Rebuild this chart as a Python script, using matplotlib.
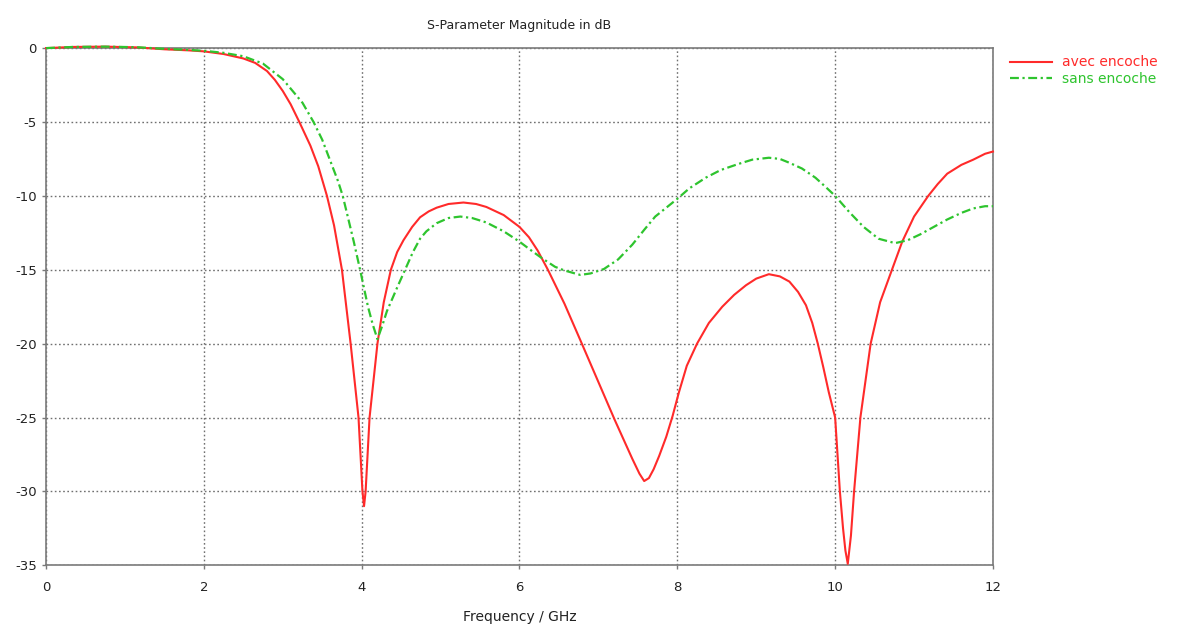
import matplotlib
matplotlib.use("Agg")
import matplotlib.pyplot as plt

plt.rcParams['font.family'] = ['DejaVu Sans']
plt.rcParams['axes.unicode_minus'] = False

# S11 with notch (avec encoche)
freq_avec = [0.0, 0.35, 0.75, 1.15, 1.5, 1.8, 2.0, 2.25, 2.5, 2.65, 2.8, 2.9, 3.0, 3.1, 3.21,
             3.35, 3.45, 3.56, 3.65, 3.75, 3.86, 3.96, 4.01, 4.03, 4.05, 4.10, 4.20, 4.28,
             4.37, 4.45, 4.53, 4.64, 4.74, 4.85, 4.95, 5.1, 5.29, 5.45, 5.58, 5.72, 5.80,
             6.0, 6.12, 6.23, 6.36, 6.57, 6.79, 7.0, 7.21, 7.43, 7.52, 7.58, 7.64, 7.70,
             7.77, 7.86, 7.94, 8.02, 8.12, 8.25, 8.4, 8.57, 8.72, 8.87, 9.0, 9.16, 9.3,
             9.42, 9.53, 9.63, 9.71, 9.78, 9.85, 9.92, 10.0, 10.03, 10.06, 10.10, 10.13,
             10.16, 10.20, 10.24, 10.32, 10.45, 10.57, 10.72, 10.85, 11.0, 11.18, 11.3,
             11.42, 11.6, 11.75, 11.9, 12.0]
db_avec = [0.0, 0.08, 0.1, 0.05, -0.08, -0.15, -0.22, -0.4, -0.7, -1.0, -1.55, -2.15, -2.9,
           -3.8, -5.0, -6.6, -8.0, -10.0, -12.0, -15.0, -20.0, -25.0, -30.0, -31.0, -30.0,
           -25.0, -20.0, -17.2, -15.0, -13.8, -13.0, -12.1, -11.45, -11.05, -10.8, -10.55,
           -10.45, -10.55, -10.75, -11.1, -11.3, -12.1, -12.8, -13.7, -15.0, -17.3, -20.0,
           -22.6, -25.2, -27.8, -28.8, -29.3, -29.1, -28.5, -27.6, -26.3, -24.9, -23.3,
           -21.5, -20.0, -18.6, -17.5, -16.7, -16.05, -15.6, -15.3, -15.45, -15.8, -16.5,
           -17.4, -18.6, -20.0, -21.6, -23.3, -25.0, -27.5, -30.0, -32.5, -34.0, -34.9,
           -33.0, -30.0, -25.0, -20.0, -17.2, -15.0, -13.1, -11.4, -10.0, -9.2, -8.5, -7.9,
           -7.55, -7.15, -7.0]

# S11 without notch (sans encoche)
freq_sans = [0.0, 0.35, 0.75, 1.15, 1.5, 1.8, 2.0, 2.25, 2.5, 2.75, 3.0, 3.25, 3.39, 3.5,
             3.6, 3.70, 3.76, 3.81, 3.9, 3.98, 4.08, 4.14, 4.20, 4.26, 4.32, 4.45, 4.55,
             4.65, 4.74, 4.82, 4.95, 5.1, 5.25, 5.4, 5.58, 5.8, 6.0, 6.15, 6.28, 6.45, 6.57,
             6.77, 6.90, 7.07, 7.25, 7.43, 7.58, 7.72, 7.86, 8.0, 8.15, 8.36, 8.55, 8.78,
             8.95, 9.16, 9.3, 9.42, 9.58, 9.75, 9.88, 10.0, 10.18, 10.36, 10.55, 10.76,
             10.92, 11.08, 11.25, 11.42, 11.6, 11.75, 11.9, 12.0]
db_sans = [0.0, 0.08, 0.1, 0.06, -0.05, -0.12, -0.18, -0.32, -0.55, -1.05, -2.1, -3.7, -5.0,
           -6.2, -7.6, -9.0, -10.0, -11.1, -13.1, -15.0, -17.5, -18.7, -19.7, -18.8, -17.8,
           -16.2, -15.0, -13.8, -12.9, -12.4, -11.85, -11.5, -11.4, -11.5, -11.8, -12.4,
           -13.1, -13.7, -14.2, -14.8, -15.05, -15.35, -15.25, -14.95, -14.3, -13.3, -12.3,
           -11.4, -10.8, -10.2, -9.5, -8.77, -8.25, -7.83, -7.55, -7.42, -7.5, -7.76, -8.15,
           -8.77, -9.4, -10.0, -11.1, -12.1, -12.9, -13.2, -13.0, -12.6, -12.1, -11.6,
           -11.15, -10.85, -10.7, -10.7]

x_ticks = [0, 2, 4, 6, 8, 10, 12]
y_ticks = [0, -5, -10, -15, -20, -25, -30, -35]

red = '#ff2a2a'
green = '#2ec42e'

fig = plt.figure(figsize=(11.8, 6.33), dpi=100)
ax = fig.add_axes([0.039, 0.107, 0.8025, 0.817])

ax.plot(freq_avec, db_avec, color=red, lw=1.5, label='avec encoche', clip_on=False, zorder=3)
ax.plot(freq_sans, db_sans, color=green, lw=1.6, ls=(0, (4, 1.6, 1, 1.6)),
        label='sans encoche', clip_on=False, zorder=3)

ax.set_xlim(0, 12)
ax.set_ylim(-35, 0)
ax.set_xticks(x_ticks)
ax.set_yticks(y_ticks)
ax.grid(True, color='#707070', ls=(0, (1.2, 1.8)), lw=1.0)
for s in ax.spines.values():
    s.set_color('#7a7a7a')
    s.set_linewidth(1.2)
ax.tick_params(colors='#7a7a7a', labelcolor='#222222', labelsize=9.5, length=3, width=1)
ax.tick_params(axis='x', pad=8)

ax.set_title('S-Parameter Magnitude in dB', fontsize=9, color='#222222', pad=14)
ax.set_xlabel('Frequency / GHz', fontsize=10, color='#222222', labelpad=12)

leg = ax.legend(loc='upper left', bbox_to_anchor=(1.005, 1.01), frameon=False,
                fontsize=10, handlelength=3.0, handletextpad=0.7, labelspacing=0.15)
for txt, c in zip(leg.get_texts(), [red, green]):
    txt.set_color(c)

fig.savefig('out.png', dpi=100)
